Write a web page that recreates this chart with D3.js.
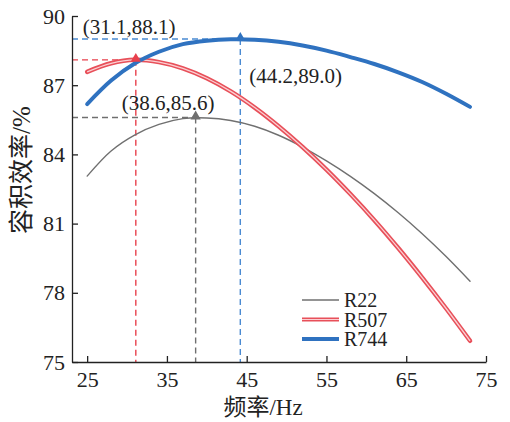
<!DOCTYPE html>
<html lang="zh">
<head>
  <meta charset="utf-8">
  <script src="https://d3js.org/d3.v7.min.js"></script>
  <title>容积效率</title>
  <style>
    body { margin: 0; background: #fff; }
    text { font-family: "Liberation Serif", "Times New Roman", "Noto Sans CJK SC", serif; fill: #222; }
  </style>
</head>
<body>
<div id="chart"></div>
<script>
  // frequency samples (Hz)
  const freq = [25, 28, 31, 34, 37, 40, 43, 46, 49, 52, 55, 58, 61, 64, 67, 70, 73];

  // volumetric efficiency (%)
  const r22 = [83.06, 84.15, 84.85, 85.3, 85.55, 85.58, 85.47, 85.22, 84.83, 84.32, 83.72, 83.05, 82.3, 81.47, 80.56, 79.57, 78.5];
  const r507 = [87.58, 87.95, 88.1, 88.0, 87.73, 87.3, 86.73, 86.03, 85.22, 84.32, 83.34, 82.28, 81.15, 79.94, 78.66, 77.32, 75.92];
  const r744 = [86.18, 87.2, 87.95, 88.45, 88.78, 88.93, 88.99, 88.97, 88.88, 88.72, 88.5, 88.22, 87.92, 87.56, 87.14, 86.63, 86.06];

  // peaks (freq, efficiency)
  const peakNames = ["R22", "R507", "R744"];
  const peakFreq = [38.6, 31.1, 44.2];
  const peakEff = [85.6, 88.1, 89.0];

  const xTicks = [25, 35, 45, 55, 65, 75];
  const yTicks = [75, 78, 81, 84, 87, 90];

  const W = 510, H = 422;
  const margin = { top: 16, right: 24, bottom: 60, left: 72 };

  const svg = d3.select("#chart").append("svg")
    .attr("width", W)
    .attr("height", H);

  const x = d3.scaleLinear().domain([23.1, 75]).range([margin.left, W - margin.right]);
  const y = d3.scaleLinear().domain([75, 90]).range([H - margin.bottom, margin.top]);

  const series = [
    { name: "R22", values: r22, color: "#707070", width: 1.4 },
    { name: "R507", values: r507, color: "#e8505a", width: 4.5, inner: "#fbd0d3" },
    { name: "R744", values: r744, color: "#2f72c0", width: 4 }
  ];
  const dashColor = { R22: "#6f6f6f", R507: "#e8404c", R744: "#4a8ad2" };
  const markColor = { R22: "#6f6f6f", R507: "#e8404c", R744: "#2f72c0" };

  // dashed guides from the peaks
  peakNames.forEach((n, i) => {
    const g = svg.append("g")
      .attr("stroke", dashColor[n])
      .attr("stroke-width", 1.4)
      .attr("stroke-dasharray", "6,4")
      .attr("fill", "none");
    g.append("line")
      .attr("x1", x.range()[0]).attr("x2", x(peakFreq[i]))
      .attr("y1", y(peakEff[i])).attr("y2", y(peakEff[i]));
    g.append("line")
      .attr("x1", x(peakFreq[i])).attr("x2", x(peakFreq[i]))
      .attr("y1", y(peakEff[i])).attr("y2", y.range()[0]);
  });

  // curves
  const line = d3.line()
    .x((d, i) => x(freq[i]))
    .y(d => y(d))
    .curve(d3.curveCatmullRom.alpha(0.5));

  series.forEach(s => {
    svg.append("path")
      .attr("d", line(s.values))
      .attr("fill", "none")
      .attr("stroke", s.color)
      .attr("stroke-width", s.width)
      .attr("stroke-linecap", "round");
    if (s.inner) {
      svg.append("path")
        .attr("d", line(s.values))
        .attr("fill", "none")
        .attr("stroke", s.inner)
        .attr("stroke-width", 1.3);
    }
  });

  // peak markers
  peakNames.forEach((n, i) => {
    svg.append("path")
      .attr("d", d3.symbol(d3.symbolTriangle, 46)())
      .attr("transform", `translate(${x(peakFreq[i])},${y(peakEff[i]) - 1})`)
      .attr("fill", markColor[n]);
  });

  // peak labels
  const labelOffset = { R22: [-74, -7], R507: [-53, -26], R744: [9, 44] };
  peakNames.forEach((n, i) => {
    const [dx, dy] = labelOffset[n];
    svg.append("text")
      .attr("x", x(peakFreq[i]) + dx)
      .attr("y", y(peakEff[i]) + dy)
      .attr("font-size", 21)
      .text(`(${peakFreq[i].toFixed(1)},${peakEff[i].toFixed(1)})`);
  });

  // axes
  const xAxis = svg.append("g")
    .attr("transform", `translate(0,${y.range()[0]})`)
    .call(d3.axisBottom(x).tickValues(xTicks).tickSizeInner(-6).tickSizeOuter(0).tickPadding(9));
  const yAxis = svg.append("g")
    .attr("transform", `translate(${x.range()[0]},0)`)
    .call(d3.axisLeft(y).tickValues(yTicks).tickSizeInner(-6).tickSizeOuter(0).tickPadding(7));

  [xAxis, yAxis].forEach(a => {
    a.selectAll("path, line").attr("stroke", "#222").attr("stroke-width", 1.3);
    a.selectAll("text")
      .attr("font-size", 22)
      .attr("font-family", '"Liberation Serif", "Times New Roman", serif')
      .attr("fill", "#222");
  });

  // axis titles
  svg.append("text")
    .attr("x", 263)
    .attr("y", 415)
    .attr("text-anchor", "middle")
    .attr("font-size", 23)
    .text("频率/Hz");

  svg.append("text")
    .attr("transform", "translate(30,170) rotate(-90)")
    .attr("text-anchor", "middle")
    .attr("font-size", 25)
    .text("容积效率/%");

  // legend
  const legend = svg.append("g").attr("transform", "translate(302,300)");
  series.forEach((s, i) => {
    const ly = i * 19.5;
    legend.append("line")
      .attr("x1", 0).attr("x2", 37)
      .attr("y1", ly).attr("y2", ly)
      .attr("stroke", s.color)
      .attr("stroke-width", s.width === 1.4 ? 1.4 : 4);
    if (s.inner) {
      legend.append("line")
        .attr("x1", 0).attr("x2", 37)
        .attr("y1", ly).attr("y2", ly)
        .attr("stroke", s.inner)
        .attr("stroke-width", 1.2);
    }
    legend.append("text")
      .attr("x", 42)
      .attr("y", ly + 7)
      .attr("font-size", 20)
      .text(s.name);
  });
</script>
</body>
</html>
